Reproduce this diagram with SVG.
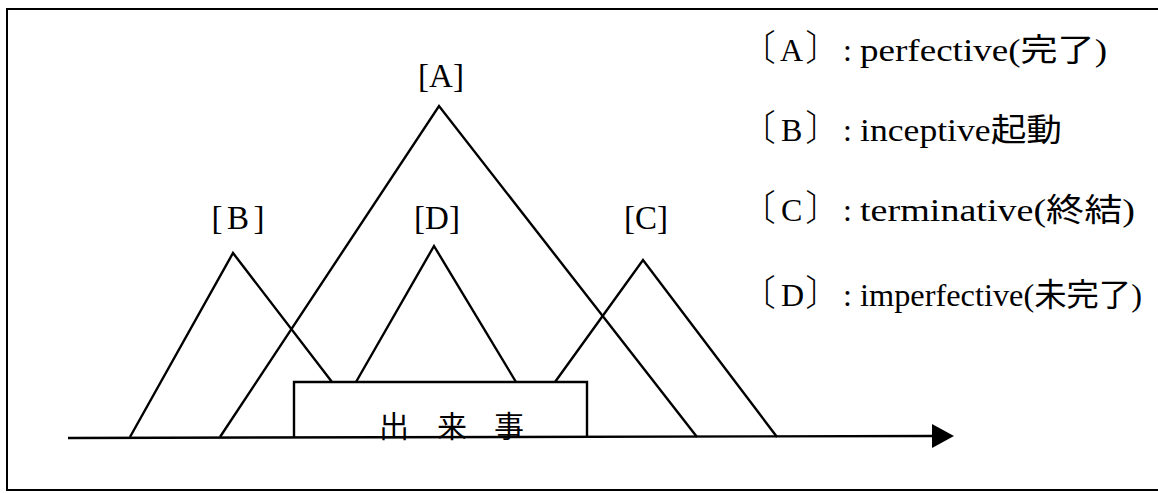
<svg xmlns="http://www.w3.org/2000/svg" width="1158" height="493" viewBox="0 0 1158 493">
<style>
.ln{fill:none;stroke:#000;stroke-width:2.4;stroke-linejoin:miter;stroke-linecap:butt}
.lbl{font-family:"Liberation Serif","Noto Sans CJK JP",serif;font-size:33px;fill:#000;text-anchor:middle}
.lg{font-family:"Liberation Serif","Noto Sans CJK JP",serif;font-size:32px;fill:#000}
.br{font-family:"Noto Sans CJK JP",serif;font-size:36px;font-weight:300}
.ev{font-family:"Noto Sans CJK JP",sans-serif;font-size:30px;fill:#000;text-anchor:middle}
</style>
<defs>
<marker id="arr" markerWidth="24" markerHeight="24" refX="0" refY="12" orient="auto" markerUnits="userSpaceOnUse">
<path d="M0,0 L22,12 L0,24 Z" fill="#000"/>
</marker>
</defs>
<rect width="1158" height="493" fill="#fff"/>
<rect x="7" y="9" width="1160" height="481" fill="none" stroke="#000" stroke-width="2"/>

<g id="connectors">
<line class="ln" x1="68" y1="438" x2="932" y2="436" marker-end="url(#arr)"/>
</g>

<g id="node-A">
<polyline class="ln" points="220,437 439,106 697,437"/>
<text class="lbl" x="441" y="87">[A]</text>
</g>
<g id="node-B">
<polyline class="ln" points="130,437 233,253 332,382"/>
<text class="lbl" x="238" y="229" textLength="53" lengthAdjust="spacing">[B]</text>
</g>
<g id="node-D">
<polyline class="ln" points="356,382 434,246 516,382"/>
<text class="lbl" x="437" y="229">[D]</text>
</g>
<g id="node-C">
<polyline class="ln" points="555,382 643,260 777,437"/>
<text class="lbl" x="646" y="229">[C]</text>
</g>
<g id="node-event">
<polyline class="ln" points="294,437 294,382 587,382 587,437"/>
<text class="ev" x="394 452 509" y="437">出来事</text>
</g>

<g id="legend">
<text class="lg" y="61"><tspan class="br" x="740">〔</tspan><tspan x="780">A</tspan><tspan class="br" x="805">〕</tspan><tspan x="843">:</tspan><tspan x="860" textLength="247" lengthAdjust="spacingAndGlyphs">perfective(完了)</tspan></text>

<text class="lg" y="141"><tspan class="br" x="740">〔</tspan><tspan x="781">B</tspan><tspan class="br" x="805">〕</tspan><tspan x="843">:</tspan><tspan x="860" textLength="202" lengthAdjust="spacingAndGlyphs">inceptive起動</tspan></text>

<text class="lg" y="221"><tspan class="br" x="740">〔</tspan><tspan x="781">C</tspan><tspan class="br" x="805">〕</tspan><tspan x="843">:</tspan><tspan x="860" textLength="275" lengthAdjust="spacingAndGlyphs">terminative(終結)</tspan></text>

<text class="lg" y="306"><tspan class="br" x="740">〔</tspan><tspan x="781">D</tspan><tspan class="br" x="805">〕</tspan><tspan x="843">:</tspan><tspan x="860" textLength="282" lengthAdjust="spacingAndGlyphs">imperfective(未完了)</tspan></text>
</g>
</svg>
